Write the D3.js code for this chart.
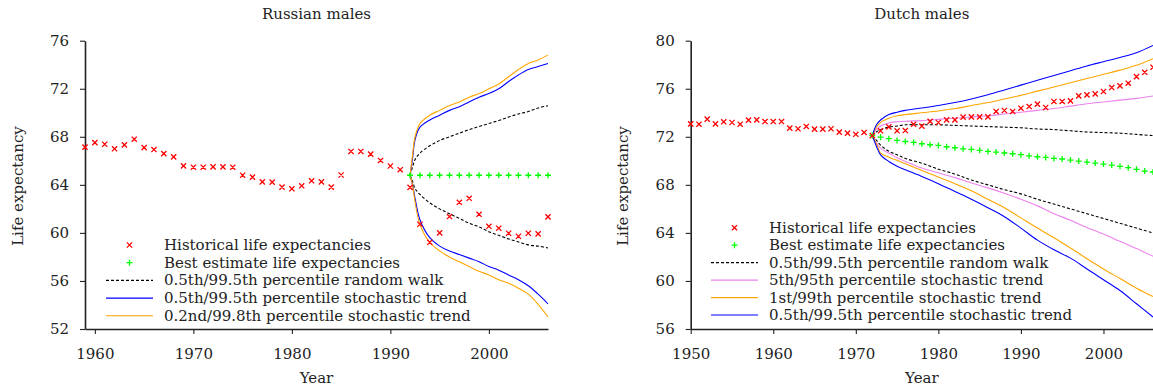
<!DOCTYPE html>
<html>
<head>
<meta charset="utf-8">
<script src="https://cdn.jsdelivr.net/npm/d3@7"></script>
<style>
  body { margin: 0; background: #fff; }
  svg text { font-family: "DejaVu Serif", "Liberation Serif", serif; fill: #222; }
</style>
</head>
<body>
<svg id="chart" width="1153" height="388"></svg>
<script>
// ---- Russian males ----
const ruHistYears = [1959, 1960, 1961, 1962, 1963, 1964, 1965, 1966, 1967, 1968,
  1969, 1970, 1971, 1972, 1973, 1974, 1975, 1976, 1977, 1978,
  1979, 1980, 1981, 1982, 1983, 1984, 1985, 1986, 1987, 1988,
  1989, 1990, 1991, 1992, 1993, 1994, 1995, 1996, 1997, 1998,
  1999, 2000, 2001, 2002, 2003, 2004, 2005, 2006];
const ruHist = [67.14, 67.52, 67.38, 67.0, 67.33, 67.8, 67.1, 66.94, 66.6, 66.33,
  65.58, 65.47, 65.47, 65.5, 65.5, 65.47, 64.8, 64.64, 64.25, 64.23,
  63.81, 63.67, 63.92, 64.34, 64.25, 63.81, 64.82, 66.78, 66.78, 66.56,
  66.03, 65.57, 65.26, 63.79, 60.72, 59.22, 60.0, 61.36, 62.55, 62.88,
  61.55, 60.55, 60.39, 59.97, 59.72, 59.97, 59.92, 61.33];
const ruBestYears = [1992, 1993, 1994, 1995, 1996, 1997, 1998, 1999, 2000, 2001, 2002, 2003, 2004, 2005, 2006];
const ruBest = [64.8, 64.8, 64.8, 64.8, 64.8, 64.8, 64.8, 64.8, 64.8, 64.8, 64.8, 64.8, 64.8, 64.8, 64.8];
const ruFcYears = [1992, 1992.25, 1992.5, 1993, 1994, 1995, 1996, 1997, 1998, 1999, 2000, 2001, 2002, 2003, 2004, 2005, 2006];
const ruRwHi = [64.8, 65.5, 66.1, 66.65, 67.25, 67.7, 68.0, 68.3, 68.6, 68.86, 69.1, 69.36, 69.64, 69.9, 70.1, 70.4, 70.58];
const ruRwLo = [64.8, 64.3, 63.7, 63.2, 62.5, 62.0, 61.6, 61.2, 60.8, 60.5, 60.1, 59.8, 59.5, 59.25, 59.0, 58.9, 58.75];
const ruSt995Hi = [64.8, 66.2, 67.75, 68.8, 69.4, 69.8, 70.2, 70.5, 70.9, 71.3, 71.6, 72.0, 72.6, 73.15, 73.6, 73.85, 74.1];
const ruSt995Lo = [64.8, 64.0, 62.9, 61.1, 59.6, 58.9, 58.5, 58.2, 57.9, 57.6, 57.2, 56.9, 56.5, 56.1, 55.6, 54.9, 54.1];
const ruSt998Hi = [64.8, 66.5, 68.0, 69.1, 69.8, 70.2, 70.6, 70.9, 71.3, 71.6, 72.0, 72.4, 73.0, 73.6, 74.1, 74.4, 74.8];
const ruSt998Lo = [64.8, 64.0, 62.6, 60.7, 59.2, 58.5, 58.0, 57.6, 57.2, 56.8, 56.5, 56.1, 55.8, 55.4, 54.9, 54.05, 53.0];
const ruXTicks = [1960, 1970, 1980, 1990, 2000];
const ruYTicks = [52, 56, 60, 64, 68, 72, 76];

// ---- Dutch males ----
const nlHistYears = [1950, 1951, 1952, 1953, 1954, 1955, 1956, 1957, 1958, 1959,
  1960, 1961, 1962, 1963, 1964, 1965, 1966, 1967, 1968, 1969,
  1970, 1971, 1972, 1973, 1974, 1975, 1976, 1977, 1978, 1979,
  1980, 1981, 1982, 1983, 1984, 1985, 1986, 1987, 1988, 1989,
  1990, 1991, 1992, 1993, 1994, 1995, 1996, 1997, 1998, 1999,
  2000, 2001, 2002, 2003, 2004, 2005, 2006];
const nlHist = [73.08, 73.05, 73.47, 73.08, 73.25, 73.19, 73.05, 73.39, 73.41, 73.27,
  73.27, 73.27, 72.72, 72.67, 72.86, 72.64, 72.64, 72.67, 72.39, 72.31,
  72.21, 72.36, 72.10, 72.50, 72.83, 72.50, 72.52, 73.04, 72.89, 73.28,
  73.19, 73.41, 73.41, 73.64, 73.66, 73.66, 73.66, 74.11, 74.19, 74.11,
  74.38, 74.52, 74.72, 74.44, 74.94, 74.94, 74.99, 75.41, 75.49, 75.57,
  75.77, 76.10, 76.24, 76.46, 77.01, 77.37, 77.79];
const nlBestYears = [1972, 1973, 1974, 1975, 1976, 1977, 1978, 1979, 1980, 1981,
  1982, 1983, 1984, 1985, 1986, 1987, 1988, 1989, 1990, 1991,
  1992, 1993, 1994, 1995, 1996, 1997, 1998, 1999, 2000, 2001,
  2002, 2003, 2004, 2005, 2006];
const nlBest = [72.11, 71.97, 71.84, 71.70, 71.61, 71.53, 71.42, 71.34, 71.28, 71.17,
  71.09, 71.0, 70.95, 70.87, 70.78, 70.73, 70.65, 70.59, 70.51, 70.42,
  70.34, 70.28, 70.20, 70.15, 70.06, 69.98, 69.90, 69.81, 69.73, 69.65,
  69.54, 69.43, 69.29, 69.15, 69.07];
const nlFcYears = [1972, 1972.5, 1973, 1974, 1975, 1976, 1978, 1980, 1982, 1984, 1986, 1988, 1990, 1992, 1994, 1996, 1998, 2000, 2002, 2004, 2006];
const nlRwHi = [72.1, 72.4, 72.6, 72.8, 72.9, 73.0, 73.0, 73.0, 72.95, 72.9, 72.85, 72.8, 72.75, 72.65, 72.6, 72.5, 72.4, 72.35, 72.3, 72.2, 72.1];
const nlRwLo = [72.1, 71.7, 71.3, 70.8, 70.5, 70.2, 69.8, 69.3, 68.9, 68.4, 68.0, 67.6, 67.25, 66.8, 66.4, 66.0, 65.6, 65.2, 64.8, 64.4, 64.0];
const nlSt95Hi = [72.1, 72.6, 72.9, 73.15, 73.25, 73.3, 73.35, 73.45, 73.55, 73.65, 73.75, 73.9, 74.05, 74.2, 74.35, 74.55, 74.75, 74.9, 75.05, 75.2, 75.4];
const nlSt95Lo = [72.1, 71.5, 71.05, 70.65, 70.25, 69.95, 69.4, 69.0, 68.6, 68.15, 67.75, 67.3, 66.8, 66.25, 65.6, 65.05, 64.45, 63.9, 63.3, 62.7, 62.05];
const nlSt99Hi = [72.1, 72.8, 73.2, 73.55, 73.75, 73.85, 74.0, 74.15, 74.35, 74.6, 74.85, 75.15, 75.45, 75.8, 76.15, 76.5, 76.85, 77.2, 77.55, 77.95, 78.5];
const nlSt99Lo = [72.1, 71.4, 70.65, 70.3, 70.05, 69.75, 69.2, 68.65, 68.1, 67.5, 66.8, 66.1, 65.25, 64.4, 63.6, 62.75, 61.85, 61.0, 60.2, 59.4, 58.7];
const nlSt995Hi = [72.1, 73.0, 73.4, 73.85, 74.05, 74.2, 74.4, 74.6, 74.85, 75.15, 75.5, 75.9, 76.3, 76.7, 77.1, 77.5, 77.9, 78.25, 78.6, 79.0, 79.6];
const nlSt995Lo = [72.1, 71.2, 70.5, 69.95, 69.55, 69.25, 68.7, 68.1, 67.45, 66.8, 66.1, 65.35, 64.4, 63.4, 62.6, 61.9, 61.0, 60.1, 59.2, 58.1, 57.0];
const nlXTicks = [1950, 1960, 1970, 1980, 1990, 2000];
const nlYTicks = [56, 60, 64, 68, 72, 76, 80];

const red = "#ff0000", green = "#00ff00", blue = "#0000ff", orange = "#ffa500", pink = "#ee82ee";

const svg = d3.select("#chart");
const plotTop = 40.7, plotBottom = 329;

function drawPanel(p) {
  const g = svg.append("g");
  const x = d3.scaleLinear().domain(p.xDomain).range(p.xRange);
  const y = d3.scaleLinear().domain(p.yDomain).range([plotBottom, plotTop]);

  // axes
  const ya = g.append("g").attr("transform", `translate(${p.xRange[0]},0)`)
    .call(d3.axisLeft(y).tickValues(p.yTicks).tickSize(5).tickSizeOuter(0).tickPadding(11));
  const xa = g.append("g").attr("transform", `translate(0,${plotBottom})`)
    .call(d3.axisBottom(x).tickValues(p.xTicks).tickFormat(d3.format("d")).tickSize(5).tickSizeOuter(0).tickPadding(14));
  [ya, xa].forEach(a => {
    a.attr("font-family", null).attr("font-size", 15);
    a.select(".domain").attr("stroke", "#222").attr("stroke-width", 1.6);
    a.selectAll(".tick line").attr("stroke", "#222").attr("stroke-width", 1.1);
  });

  // title and axis labels
  const cx = (p.xRange[0] + p.xRange[1]) / 2;
  g.append("text").attr("x", cx).attr("y", 19).attr("text-anchor", "middle")
    .attr("font-size", 15).text(p.title);
  g.append("text").attr("x", cx).attr("y", 383).attr("text-anchor", "middle")
    .attr("font-size", 15).text("Year");
  g.append("text").attr("transform", `translate(${p.yLabelX},186) rotate(-90)`)
    .attr("text-anchor", "middle").attr("font-size", 15).text("Life expectancy");

  const line = d3.line().curve(d3.curveCatmullRom.alpha(0.5))
    .x(d => x(d[0])).y(d => y(d[1]));

  // forecast bands
  p.bands.forEach(b => {
    [b.hi, b.lo].forEach(vals => {
      g.append("path")
        .datum(p.fcYears.map((yr, i) => [yr, vals[i]]))
        .attr("d", line)
        .attr("fill", "none")
        .attr("stroke", b.color)
        .attr("stroke-width", 1.1)
        .attr("stroke-dasharray", b.dash ? "3,2" : null);
    });
  });

  // best estimate (+)
  const plus = d3.path();
  p.bestYears.forEach((yr, i) => {
    const px = x(yr), py = y(p.best[i]);
    plus.moveTo(px - 3, py); plus.lineTo(px + 3, py);
    plus.moveTo(px, py - 3); plus.lineTo(px, py + 3);
  });
  g.append("path").attr("d", plus.toString()).attr("stroke", green)
    .attr("stroke-width", 1.3).attr("fill", "none");

  // historical (x)
  const cross = d3.path();
  p.histYears.forEach((yr, i) => {
    const px = x(yr), py = y(p.hist[i]);
    cross.moveTo(px - 2.6, py - 2.6); cross.lineTo(px + 2.6, py + 2.6);
    cross.moveTo(px - 2.6, py + 2.6); cross.lineTo(px + 2.6, py - 2.6);
  });
  g.append("path").attr("d", cross.toString()).attr("stroke", red)
    .attr("stroke-width", 1.3).attr("fill", "none");

  // legend
  const lg = g.append("g");
  const mx = (p.legLine[0] + p.legLine[1]) / 2;
  p.legend.forEach((item, i) => {
    const ly = p.legY0 + i * p.legDy;
    if (item.type === "x") {
      lg.append("path").attr("d", `M${mx - 2.6},${ly - 2.6}L${mx + 2.6},${ly + 2.6}M${mx - 2.6},${ly + 2.6}L${mx + 2.6},${ly - 2.6}`)
        .attr("stroke", red).attr("stroke-width", 1.3);
    } else if (item.type === "+") {
      lg.append("path").attr("d", `M${mx - 3},${ly}L${mx + 3},${ly}M${mx},${ly - 3}L${mx},${ly + 3}`)
        .attr("stroke", green).attr("stroke-width", 1.3);
    } else {
      lg.append("line").attr("x1", p.legLine[0]).attr("x2", p.legLine[1])
        .attr("y1", ly).attr("y2", ly)
        .attr("stroke", item.color).attr("stroke-width", 1.1)
        .attr("stroke-dasharray", item.dash ? "3,2" : null);
    }
    lg.append("text").attr("x", p.legText).attr("y", ly + 5)
      .attr("font-size", 15).text(item.label);
  });
}

drawPanel({
  title: "Russian males",
  xDomain: [1959, 2006], xRange: [85, 548],
  yDomain: [52, 76], xTicks: ruXTicks, yTicks: ruYTicks, yLabelX: 23,
  histYears: ruHistYears, hist: ruHist,
  bestYears: ruBestYears, best: ruBest,
  fcYears: ruFcYears,
  bands: [
    {hi: ruRwHi, lo: ruRwLo, color: "#000", dash: true},
    {hi: ruSt995Hi, lo: ruSt995Lo, color: blue},
    {hi: ruSt998Hi, lo: ruSt998Lo, color: orange}
  ],
  legLine: [106, 153], legText: 164, legY0: 245, legDy: 17.7,
  legend: [
    {type: "x", label: "Historical life expectancies"},
    {type: "+", label: "Best estimate life expectancies"},
    {color: "#000", dash: true, label: "0.5th/99.5th percentile random walk"},
    {color: blue, label: "0.5th/99.5th percentile stochastic trend"},
    {color: orange, label: "0.2nd/99.8th percentile stochastic trend"}
  ]
});

drawPanel({
  title: "Dutch males",
  xDomain: [1950, 2006], xRange: [690.7, 1153],
  yDomain: [56, 80], xTicks: nlXTicks, yTicks: nlYTicks, yLabelX: 628,
  histYears: nlHistYears, hist: nlHist,
  bestYears: nlBestYears, best: nlBest,
  fcYears: nlFcYears,
  bands: [
    {hi: nlRwHi, lo: nlRwLo, color: "#000", dash: true},
    {hi: nlSt95Hi, lo: nlSt95Lo, color: pink},
    {hi: nlSt99Hi, lo: nlSt99Lo, color: orange},
    {hi: nlSt995Hi, lo: nlSt995Lo, color: blue}
  ],
  legLine: [711, 758], legText: 769, legY0: 227.7, legDy: 17.47,
  legend: [
    {type: "x", label: "Historical life expectancies"},
    {type: "+", label: "Best estimate life expectancies"},
    {color: "#000", dash: true, label: "0.5th/99.5th percentile random walk"},
    {color: pink, label: "5th/95th percentile stochastic trend"},
    {color: orange, label: "1st/99th percentile stochastic trend"},
    {color: blue, label: "0.5th/99.5th percentile stochastic trend"}
  ]
});
</script>
</body>
</html>
